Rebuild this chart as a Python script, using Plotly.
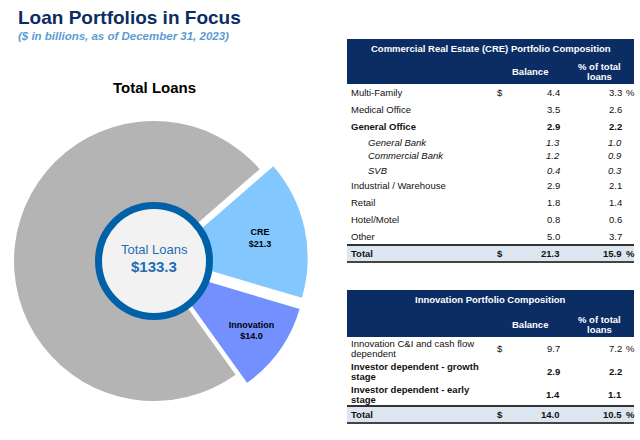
import plotly.graph_objects as go

# ---------------- data ----------------
pie_labels = ["CRE", "Innovation", "Other loans"]
pie_values = [21.3, 14.0, 98.0]
total_loans = 133.3

cre_labels = ["Multi-Family", "Medical Office", "General Office", "General Bank",
              "Commercial Bank", "SVB", "Industrial / Warehouse", "Retail",
              "Hotel/Motel", "Other"]
cre_balance = [4.4, 3.5, 2.9, 1.3, 1.2, 0.4, 2.9, 1.8, 0.8, 5.0]
cre_pct = [3.3, 2.6, 2.2, 1.0, 0.9, 0.3, 2.1, 1.4, 0.6, 3.7]
cre_style = ["normal", "normal", "bold", "sub", "sub", "sub",
             "normal", "normal", "normal", "normal"]
cre_total = [21.3, 15.9]

inn_labels = ["Innovation C&I and cash flow<br>dependent",
              "Investor dependent - growth<br>stage",
              "Investor dependent - early<br>stage"]
inn_balance = [9.7, 2.9, 1.4]
inn_pct = [7.2, 2.2, 1.1]
inn_style = ["normal", "bold", "bold"]
inn_total = [14.0, 10.5]

# ---------------- styling ----------------
W, H = 640, 440
FONT = "Liberation Sans, Arial, Helvetica, sans-serif"
NAVY = "#0b2d64"
TXT = "#111111"


def px(x):
    return x / W


def py(y):
    return 1 - y / H


annotations = []
shapes = []


def text(x, y, s, size=9.5, color=TXT, anchor="left", bold=False, italic=False):
    if bold:
        s = "<b>" + s + "</b>"
    if italic:
        s = "<i>" + s + "</i>"
    annotations.append(dict(x=px(x), y=py(y), xref="paper", yref="paper", text=s,
                            showarrow=False, xanchor=anchor, yanchor="middle",
                            borderpad=0,
                            font=dict(family=FONT, size=size, color=color)))


def rect(x0, y0, x1, y1, fill, line_w=0, line_c=None):
    shapes.append(dict(type="rect", xref="paper", yref="paper",
                       x0=px(x0), x1=px(x1), y0=py(y1), y1=py(y0),
                       fillcolor=fill, line=dict(width=line_w, color=line_c or fill),
                       layer="below"))


def hline(x0, x1, y, w, c):
    shapes.append(dict(type="line", xref="paper", yref="paper",
                       x0=px(x0), x1=px(x1), y0=py(y), y1=py(y),
                       line=dict(width=w, color=c)))


# ---------------- titles ----------------
text(17, 18, "Loan Portfolios in Focus", size=19, color=NAVY, bold=True)
text(17, 36, "($ in billions, as of December 31, 2023)", size=11.5,
     color="#5b9bd5", bold=True, italic=True)
text(154, 88, "Total Loans", size=15, color="#000000", anchor="center", bold=True)

# ---------------- pie ----------------
CX, CY = 154, 261
half = 154
fig = go.Figure()
fig.add_trace(go.Pie(
    labels=pie_labels, values=pie_values, sort=False, direction="clockwise",
    rotation=49, hole=0.2, pull=[0.1, 0.1, 0],
    marker=dict(colors=["#82c8fe", "#7490fe", "#b4b4b4"], line=dict(width=0)),
    texttemplate=["<b>%{label}<br>$%{value:.1f}</b>", "<b>%{label}<br>$%{value:.1f}</b>", ""],
    textposition="inside", insidetextorientation="horizontal",
    insidetextfont=dict(family=FONT, size=9, color="#000000"),
    hoverinfo="label+value", showlegend=False,
    domain=dict(x=[px(CX - half), px(CX + half)], y=[py(CY + half), py(CY - half)]),
))

# centre ring
R_OUT, RING_W = 59, 7
r_path = R_OUT - RING_W / 2
shapes.append(dict(type="circle", xref="paper", yref="paper",
                   x0=px(CX - r_path), x1=px(CX + r_path),
                   y0=py(CY + r_path), y1=py(CY - r_path),
                   fillcolor="#f2f2f2", line=dict(color="#0060a8", width=RING_W),
                   layer="above"))
text(CX, 249, "Total Loans", size=13, color="#1f6db5", anchor="center")
text(CX, 266, "$%.1f" % total_loans, size=15, color="#1f6db5", anchor="center", bold=True)

# ---------------- tables ----------------
TX0, TX1 = 347, 634
X_LABEL, X_SUB, X_DOLLAR, X_BAL, X_PCT, X_PCTSIGN = 350, 367, 500, 561, 623, 625


def header(top, bottom, title):
    rect(TX0, top, TX1, bottom, NAVY)
    text((TX0 + TX1) / 2, top + 9, title, color="white", anchor="center", bold=True)
    text(530, bottom - 13, "Balance", color="white", anchor="center", bold=True)
    text(599, bottom - 18, "% of total", color="white", anchor="center", bold=True)
    text(599, bottom - 8, "loans", color="white", anchor="center", bold=True)


def total_row(top, vals):
    h = 17
    rect(TX0, top, TX1, top + h, "#dce6f1")
    hline(TX0, TX1, top, 2, "#333333")
    hline(TX0, TX1, top + h, 2, "#444444")
    c = top + h / 2
    text(X_LABEL, c, "Total", bold=True)
    text(X_DOLLAR, c, "$", anchor="center", bold=True)
    text(X_BAL, c, "%.1f" % vals[0], anchor="right", bold=True)
    text(X_PCT, c, "%.1f" % vals[1], anchor="right", bold=True)
    text(X_PCTSIGN, c, "%", bold=True)


# CRE table
header(39, 84, "Commercial Real Estate (CRE) Portfolio Composition")
y = 84
for i, (lab, bal, pct, st) in enumerate(zip(cre_labels, cre_balance, cre_pct, cre_style)):
    h = 14 if st == "sub" else 17
    c = y + h / 2
    b = st == "bold"
    it = st == "sub"
    text(X_SUB if it else X_LABEL, c, lab, bold=b, italic=it)
    if i == 0:
        text(X_DOLLAR, c, "$", anchor="center")
    text(X_BAL, c, "%.1f" % bal, anchor="right", bold=b, italic=it)
    text(X_PCT, c, "%.1f" % pct, anchor="right", bold=b, italic=it)
    if i == 0:
        text(X_PCTSIGN, c, "%")
    y += h
total_row(y, cre_total)

# Innovation table
header(290, 337, "Innovation Portfolio Composition")
y = 337
for i, (lab, bal, pct, st) in enumerate(zip(inn_labels, inn_balance, inn_pct, inn_style)):
    h = 23
    c = y + h / 2
    b = st == "bold"
    lines = lab.split("<br>")
    for k, ln in enumerate(lines):
        text(X_LABEL, c + (k - (len(lines) - 1) / 2) * 10, ln, bold=b)
    if i == 0:
        text(X_DOLLAR, c, "$", anchor="center")
    text(X_BAL, c, "%.1f" % bal, anchor="right", bold=b)
    text(X_PCT, c, "%.1f" % pct, anchor="right", bold=b)
    if i == 0:
        text(X_PCTSIGN, c, "%")
    y += h
total_row(y, inn_total)

fig.update_layout(width=W, height=H, margin=dict(l=0, r=0, t=0, b=0),
                  paper_bgcolor="white", plot_bgcolor="white",
                  annotations=annotations, shapes=shapes,
                  font=dict(family=FONT))
fig.write_html("out.html", config=dict(displayModeBar=False),
               post_script="document.body.style.margin='0';document.body.style.padding='0';")
